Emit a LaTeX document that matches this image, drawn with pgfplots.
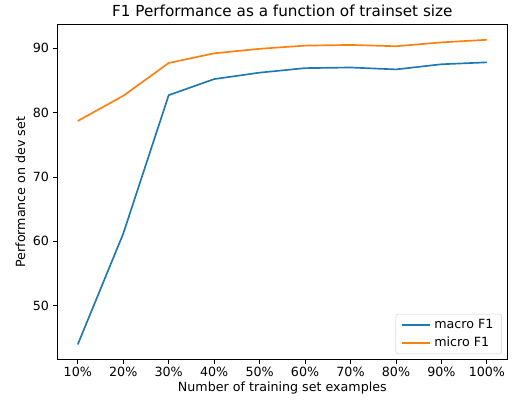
\documentclass[border=0pt]{standalone}
\usepackage{fontspec}
\setmainfont{DejaVu Sans}
\usepackage{pgfplots}
\pgfplotsset{compat=1.18}
\definecolor{c0}{HTML}{1F77B4}
\definecolor{c1}{HTML}{FF7F0E}
\begin{document}
\fontsize{11.4}{13.7}\selectfont
\begin{tikzpicture}
\useasboundingbox (-51.6pt,-38.7pt) rectangle (409.2pt,323.9pt);
\begin{axis}[
  scale only axis, width=405pt, height=302pt,
  at={(0,0)}, anchor=south west,
  xmin=-0.45, xmax=9.45, ymin=41.6, ymax=93.7,
  xtick={0,...,9},
  xticklabels={10\%,20\%,30\%,40\%,50\%,60\%,70\%,80\%,90\%,100\%},
  ytick={50,60,70,80,90},
  /pgf/number format/assume math mode=true,
  tick align=outside, tick pos=left,
  major tick length=3.5pt,
  tick style={black, line width=0.8pt},
  axis line style={line width=0.8pt},
  ticklabel style={font=\fontsize{11.4}{13.7}\selectfont},
  xticklabel style={yshift=1pt},
  title={F1 Performance as a function of trainset size},
  title style={font=\fontsize{13.7}{16}\selectfont, yshift=-3pt},
  xlabel={Number of training set examples},
  ylabel={Performance on dev set},
  xlabel style={yshift=3pt},
  ylabel style={yshift=-1pt},
  label style={font=\fontsize{11.4}{13.7}\selectfont},
  legend style={at={(0.988,0.017)}, anchor=south east, draw=black!20, rounded corners=2pt,
    font=\fontsize{11.4}{13.7}\selectfont, inner xsep=4.5pt, inner ysep=4pt, row sep=3.5pt,
    nodes={inner xsep=3pt, inner ysep=1pt}},
  legend cell align=left,
  legend image code/.code={\draw[#1, line width=2pt] (0pt,0pt) -- (25pt,0pt);},
]
\addplot[c0, line width=1.5pt, mark=none] coordinates {
(0,44.0) (1,61.2) (2,82.7) (3,85.2) (4,86.2) (5,86.9) (6,87.0) (7,86.7) (8,87.5) (9,87.8)};
\addlegendentry{macro F1}
\addplot[c1, line width=1.5pt, mark=none] coordinates {
(0,78.7) (1,82.6) (2,87.7) (3,89.2) (4,89.9) (5,90.4) (6,90.5) (7,90.3) (8,90.9) (9,91.3)};
\addlegendentry{micro F1}
\end{axis}
\end{tikzpicture}
\end{document}
